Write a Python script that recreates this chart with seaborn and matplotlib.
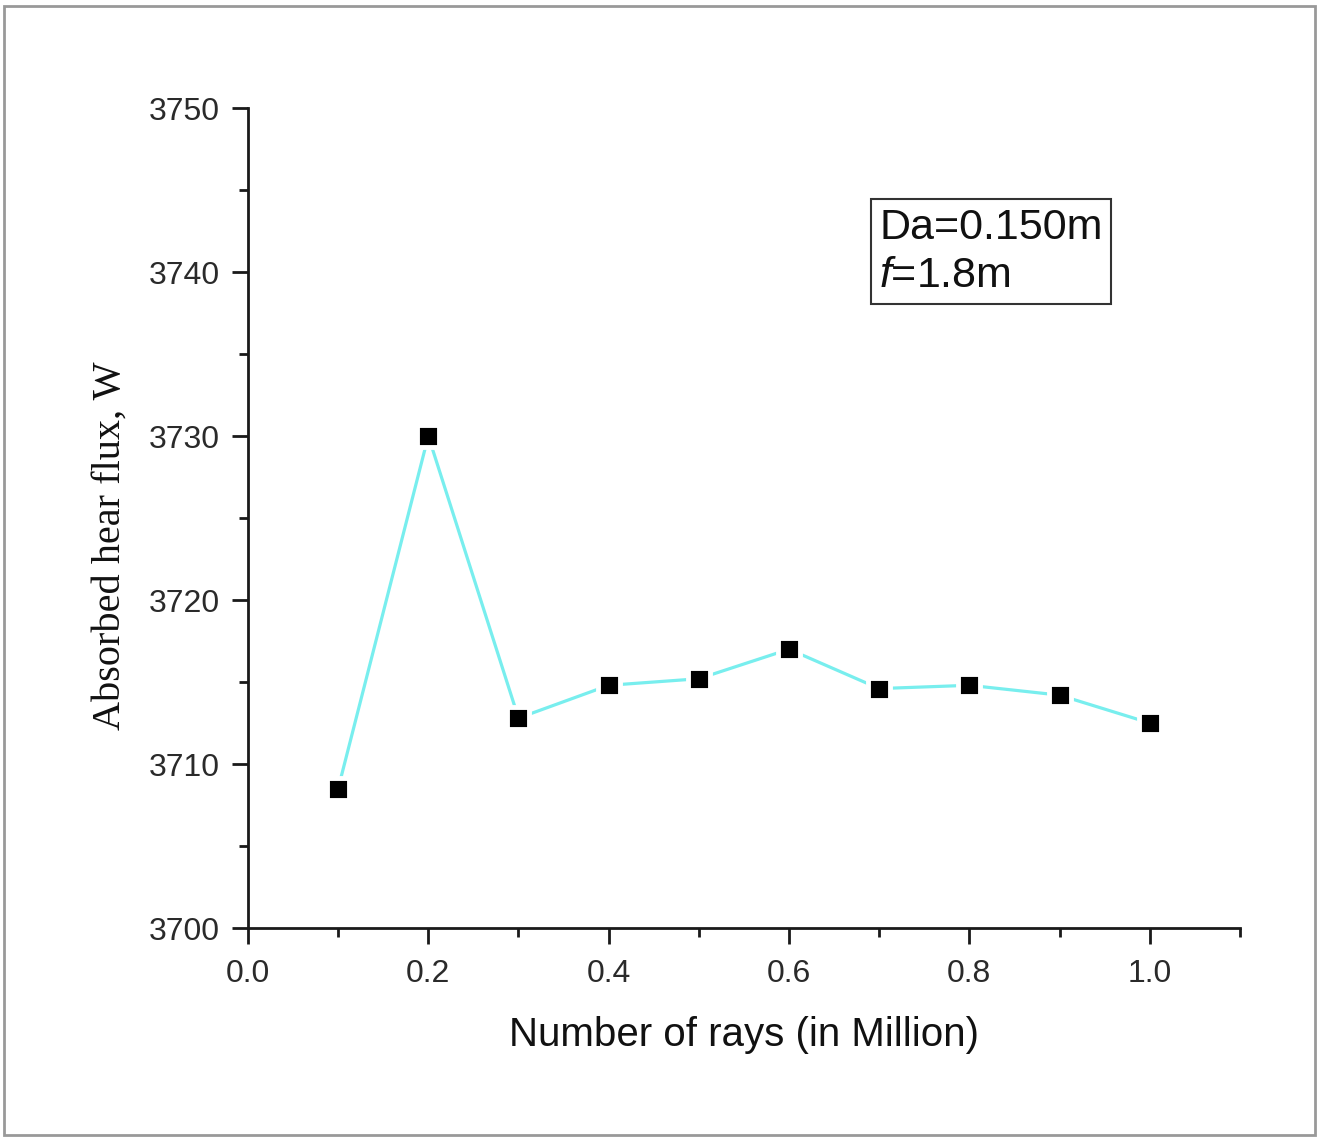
"""
Absorbed heat flux vs number of rays (ray-tracing convergence)
"""
import numpy as np
import pandas as pd
import matplotlib
matplotlib.use('Agg')
import matplotlib.pyplot as plt
import seaborn as sns
from matplotlib.patches import Rectangle
from matplotlib.ticker import MultipleLocator

# data
rays_million = [0.1, 0.2, 0.3, 0.4, 0.5, 0.6, 0.7, 0.8, 0.9, 1.0]
heat_flux = [3708.5, 3730.0, 3712.8, 3714.8, 3715.2, 3717.0, 3714.6, 3714.8, 3714.2, 3712.5]
box_lines = ['Da=0.150m', r'$\mathit{f}$=1.8m']
x_label = 'Number of rays (in Million)'
y_label = 'Absorbed hear flux, W'

sns.set_theme(style='ticks')
plt.rcParams['font.family'] = ['Liberation Sans', 'DejaVu Sans']
plt.rcParams['mathtext.fontset'] = 'custom'
plt.rcParams['mathtext.it'] = 'Liberation Sans:italic'
plt.rcParams['mathtext.rm'] = 'Liberation Sans'

df = pd.DataFrame({'rays': rays_million, 'flux': heat_flux})

fig = plt.figure(figsize=(13.19, 11.37), dpi=100)
ax = fig.add_axes([0.188, 0.1838, 0.752, 0.7212])

sns.lineplot(data=df, x='rays', y='flux', ax=ax, color='#78EEEE', linewidth=2.3,
             marker='s', markersize=16.5, markerfacecolor='black',
             markeredgecolor='white', markeredgewidth=3.5)

ax.set_xlim(0, 1.1)
ax.set_ylim(3700, 3750)
ax.xaxis.set_major_locator(MultipleLocator(0.2))
ax.xaxis.set_minor_locator(MultipleLocator(0.1))
ax.yaxis.set_major_locator(MultipleLocator(10))
ax.yaxis.set_minor_locator(MultipleLocator(5))
ax.xaxis.set_major_formatter(matplotlib.ticker.FormatStrFormatter('%.1f'))

sns.despine(ax=ax)
for s in ['left', 'bottom']:
    ax.spines[s].set_linewidth(2.0)
    ax.spines[s].set_color('#1a1a1a')
ax.tick_params(which='major', length=11.5, width=2.0, color='#1a1a1a',
               labelsize=23, labelcolor='#2a2a2a', direction='out')
ax.tick_params(which='minor', length=6.5, width=2.0, color='#1a1a1a', direction='out')
ax.tick_params(axis='x', which='major', pad=11)
ax.tick_params(axis='y', which='major', pad=9)

ax.set_xlabel(x_label, fontsize=29, color='#111111')
ax.xaxis.set_label_coords(0.5, -0.130)
ax.xaxis.label.set_verticalalignment('center')
ax.set_ylabel(y_label, fontsize=29, color='#111111', family=['Liberation Serif', 'DejaVu Serif'])
ax.yaxis.set_label_coords(-0.139, 0.466)
ax.yaxis.label.set_verticalalignment('center')

ax.text(0.7, 3743.9, '\n'.join(box_lines), fontsize=31, color='#111111',
        ha='left', va='top', linespacing=1.25,
        bbox=dict(boxstyle='square,pad=0.2', facecolor='white',
                  edgecolor='#333333', linewidth=1.5))

# grey frame around the whole picture
fig.patches.append(Rectangle((0.003, 0.002), 0.994, 0.993, transform=fig.transFigure,
                             fill=False, edgecolor='#999999', linewidth=2))

plt.savefig('out.png', dpi=100)
plt.close()
